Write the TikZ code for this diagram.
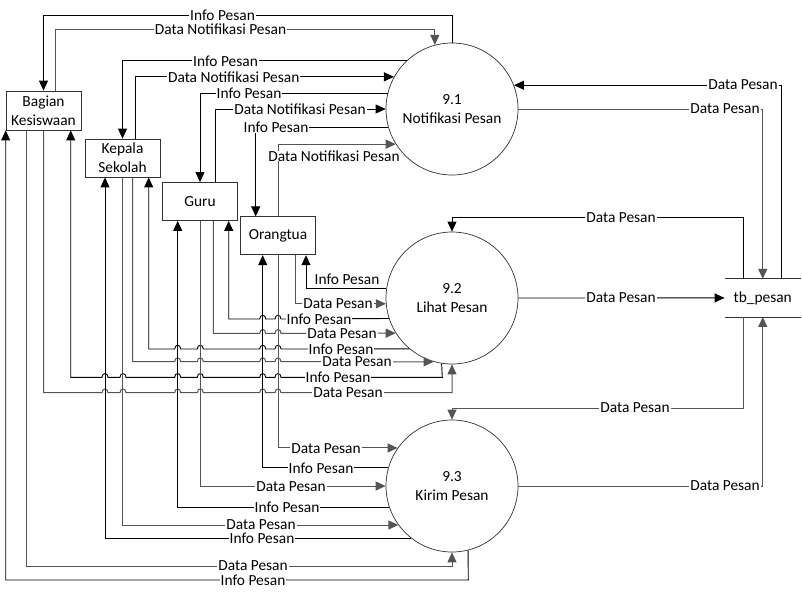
\documentclass[tikz,border=0pt]{standalone}
\usepackage{fontspec}
\setmainfont{Carlito}
\usepackage{tikz}
\usetikzlibrary{arrows.meta, shapes.geometric}
\definecolor{boxgray}{RGB}{50,50,50}
\definecolor{datagray}{RGB}{85,85,85}

\tikzset{
  entity/.style={draw=boxgray, line width=0.8pt, minimum width=75pt, minimum height=38pt, inner sep=0pt, align=center},
  proc/.style={circle, draw=boxgray, line width=0.7pt, minimum size=132pt, inner sep=0pt, align=center},
  store/.style={minimum width=76pt, minimum height=37.7pt, inner sep=0pt},
  flow/.style={line width=0.9pt, -{Triangle[length=10pt,width=9pt]}},
  info/.style={flow, draw=black},
  data/.style={flow, draw=datagray, line width=1pt},
  lbl/.style={fill=white, inner xsep=1pt, inner ysep=0pt},
}

\begin{document}
\begin{tikzpicture}[x=1pt, y=-1pt, font=\fontsize{15.4}{19}\selectfont]
		\path[fill=white] (0,0) rectangle (802,598);

		%% external entities
		\node[entity, minimum height=39pt] (bk) at (43.5,110.5) {Bagian\\Kesiswaan};
		\node[entity] (ks) at (122.5,158) {Kepala\\Sekolah};
		\node[entity] (guru) at (200,201.5) {Guru};
		\node[entity] (ot) at (278,235.8) {Orangtua};

		%% processes
		\node[proc] (p1) at (452,109) {9.1\\Notifikasi Pesan};
		\node[proc] (p2) at (452,298) {9.2\\Lihat Pesan};
		\node[proc] (p3) at (452,486) {9.3\\Kirim Pesan};

		%% data store
		\node[store] (tb) at (762.75,297.9) {tb\_pesan};
		\draw[boxgray, line width=0.8pt] (tb.north west) -- (tb.north east) (tb.south west) -- (tb.south east);

		%% 9.1 Notifikasi Pesan
		\draw[info] (p1.north) -- (p1.north |- 0,15) -| (bk.north);
		\draw[data] (55,0 |- bk.north) -- (55,29) -| (p1.105.8);
		\draw[info] (p1.133.7) -| (ks.north);
		\draw[info] (135.7,0 |- ks.north) |- (p1.151.3);
		\draw[info] (p1.166.6) -| (guru.north);
		\draw[info] (215,0 |- guru.north) |- (p1.west);
		\draw[info] (p1.196.1) -| (255.7,0 |- ot.north);
		\draw[data] (ot.north) |- (p1.212);

		%% 9.2 Lihat Pesan
		\draw[info] (p2.172.4) -| (306,0 |- ot.south);
		\draw[data] (295.3,0 |- ot.south) |- (p2.185.2);
		\draw[info] (p2.198.6) foreach \c in {278,262.7} {-- (\c+3,319) .. controls (\c+3,314) and (\c-3,314) .. (\c-3,319)} -| (228.7,0 |- guru.south);
		\draw[data] (213.3,0 |- guru.south) -- (213.3,333.3) foreach \c in {262.7,278} {-- (\c-3,333.3) .. controls (\c-3,328.3) and (\c+3,328.3) .. (\c+3,333.3)} -- (p2.212.3);
		\draw[info] (p2.230.6) foreach \c in {278,262.7,200.3,177.7} {-- (\c+3,349) .. controls (\c+3,344) and (\c-3,344) .. (\c-3,349)} -| (148.7,0 |- ks.south);
		\draw[data] (132.7,0 |- ks.south) -- (132.7,361.7) foreach \c in {177.7,200.3,262.7,278} {-- (\c-3,361.7) .. controls (\c-3,356.7) and (\c+3,356.7) .. (\c+3,361.7)} -- (p2.254.8);
		\draw[info] (p2.261.5) -- (442.3,377.3) foreach \c in {278,262.7,200.3,177.7,123,105} {-- (\c+3,377.3) .. controls (\c+3,372.3) and (\c-3,372.3) .. (\c-3,377.3)} -| (70.7,0 |- bk.south);
		\draw[data] (bk.south) -- (43.5,392.7) foreach \c in {105,123,177.7,200.3,262.7,278} {-- (\c-3,392.7) .. controls (\c-3,387.7) and (\c+3,387.7) .. (\c+3,392.7)} -| (p2.south);

		%% 9.3 Kirim Pesan
		\draw[data] (ot.south) |- (p3.145.9);
		\draw[info] (p3.164.4) -| (262.7,0 |- ot.south);
		\draw[data] (guru.south) |- (p3.west);
		\draw[info] (p3.199.2) -| (177.7,0 |- guru.south);
		\draw[data] (ks.south) |- (p3.216.2);
		\draw[info] (p3.232) -| (105,0 |- ks.south);
		\draw[data] (26.7,0 |- bk.south) -- (26.7,566) -| (p3.south);
		\draw[info] (p3.284.3) -- (468.3,580) -| (5.7,0 |- bk.south);

		%% tb_pesan
		\draw[info] (781.7,0 |- tb.north) |- (p1.21.3);
		\draw[data] (p1.east) -| (tb.north);
		\draw[info] (743.7,0 |- tb.north) -- (743.7,217.3) -| (p2.north);
		\draw[info] (p2.east) -- (tb.west);
		\draw[data] (743.7,0 |- tb.south) -- (743.7,408) -| (p3.north);
		\draw[data] (p3.east) -| (tb.south);

		%% labels
		\node[lbl] (l11) at (222.5,15) {Info Pesan};
		\node[lbl] (l12) at (220.5,29.3) {Data Notifikasi Pesan};
		\node[lbl] (l13) at (225.5,61.3) {Info Pesan};
		\node[lbl] (l14) at (233.7,77.3) {Data Notifikasi Pesan};
		\node[lbl] (l15) at (249,93.7) {Info Pesan};
		\node[lbl] (l16) at (300,109) {Data Notifikasi Pesan};
		\node[lbl] (l17) at (276,127.3) {Info Pesan};
		\node[lbl] (l18) at (334,156) {Data Notifikasi Pesan};

		\node[lbl] (l21) at (347,279.3) {Info Pesan};
		\node[lbl] (l22) at (338,304) {Data Pesan};
		\node[lbl] (l23) at (319,319) {Info Pesan};
		\node[lbl] (l24) at (342,333.3) {Data Pesan};
		\node[lbl] (l25) at (341,349) {Info Pesan};
		\node[lbl] (l26) at (357,361.7) {Data Pesan};
		\node[lbl] (l27) at (338,377.3) {Info Pesan};
		\node[lbl] (l28) at (348,392.7) {Data Pesan};

		\node[lbl] (l31) at (326,449) {Data Pesan};
		\node[lbl] (l32) at (321,468.3) {Info Pesan};
		\node[lbl] (l33) at (291,486.5) {Data Pesan};
		\node[lbl] (l34) at (287,507.7) {Info Pesan};
		\node[lbl] (l35) at (261,525) {Data Pesan};
		\node[lbl] (l36) at (262,538) {Info Pesan};
		\node[lbl] (l37) at (253,566) {Data Pesan};
		\node[lbl] (l38) at (253,580) {Info Pesan};

		\node[lbl] (t1) at (743,85) {Data Pesan};
		\node[lbl] (t2) at (725,109) {Data Pesan};
		\node[lbl] (t3) at (621,217.3) {Data Pesan};
		\node[lbl] (t4) at (621,298) {Data Pesan};
		\node[lbl] (t5) at (635,408) {Data Pesan};
		\node[lbl] (t6) at (725,486) {Data Pesan};
\end{tikzpicture}
\end{document}
